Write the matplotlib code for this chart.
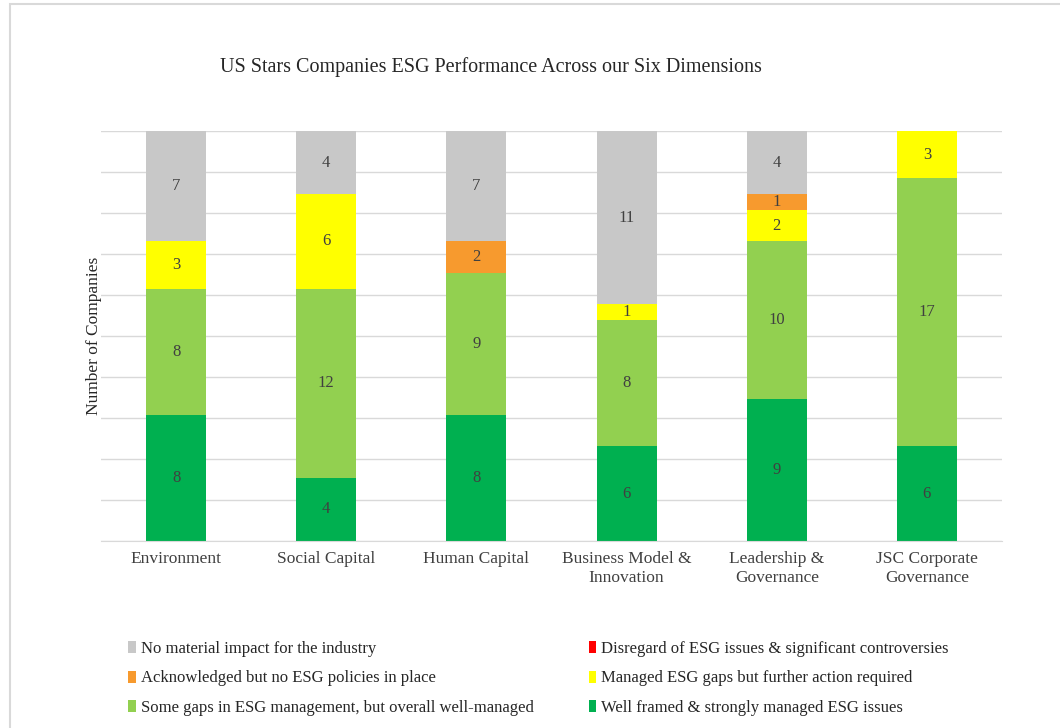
import numpy as np
import matplotlib.pyplot as plt
from matplotlib.patches import Patch, Rectangle

plt.rcParams['font.family'] = ['Liberation Serif', 'DejaVu Serif']

# ----- data -----
categories = ['Environment', 'Social Capital', 'Human Capital',
              'Business Model &\nInnovation', 'Leadership &\nGovernance',
              'JSC Corporate\nGovernance']
well_framed = [8, 4, 8, 6, 9, 6]
some_gaps = [8, 12, 9, 8, 10, 17]
managed_gaps = [3, 6, 0, 1, 2, 3]
acknowledged = [0, 0, 2, 0, 1, 0]
disregard = [0, 0, 0, 0, 0, 0]
no_impact = [7, 4, 7, 11, 4, 0]

series_names = ['Well framed & strongly managed ESG issues',
                'Some gaps in ESG management, but overall well-managed',
                'Managed ESG gaps but further action required',
                'Acknowledged but no ESG policies in place',
                'Disregard of ESG issues & significant controversies',
                'No material impact for the industry']
series_vals = [well_framed, some_gaps, managed_gaps, acknowledged, disregard, no_impact]
colors = ['#00B050', '#92D050', '#FFFF00', '#F79A2E', '#FF0000', '#C8C8C8']

# ----- plot -----
fig = plt.figure(figsize=(10.6, 7.28), dpi=100)
ax = fig.add_axes([0.0953, 0.2569, 0.85, 0.5632])

x = np.arange(len(categories))
bottom = np.zeros(len(categories))
for name, vals, col in zip(series_names, series_vals, colors):
    vals = np.array(vals, dtype=float)
    ax.bar(x, vals, 0.4, bottom=bottom, color=col, label=name, zorder=2)
    for xi, b, v in zip(x, bottom, vals):
        if v > 0:
            ax.text(xi, b + v / 2, f'{int(v)}', ha='center', va='center',
                    fontsize=12, color='#404040', zorder=3)
    bottom += vals

ax.set_xlim(-0.5, len(categories) - 0.5)
ax.set_ylim(0, 26)
ax.set_yticks(np.linspace(0, 26, 11))
ax.set_yticklabels([])
ax.tick_params(axis='y', length=0)
ax.tick_params(axis='x', length=0, pad=7)
ax.set_xticks(x)
ax.set_xticklabels(categories, fontsize=12.5, color='#404040', linespacing=1.25)
ax.grid(axis='y', color='#D9D9D9', lw=1, zorder=0)
for s in ['top', 'right', 'left']:
    ax.spines[s].set_visible(False)
ax.spines['bottom'].set_color('#D9D9D9')
ax.set_ylabel('Number of Companies', fontsize=12.5, color='#262626', labelpad=-4)

fig.text(0.463, 0.908, 'US Stars Companies ESG Performance Across our Six Dimensions',
         ha='center', va='center', fontsize=14.5, color='#262626')

# legend: column-major order so rows read across
order = [5, 3, 1, 4, 2, 0]
handles = [Patch(facecolor=colors[i], edgecolor='none') for i in order]
labels = [series_names[i] for i in order]
fig.legend(handles, labels, ncol=2, loc='center left',
           bbox_to_anchor=(0.107, 0.068), frameon=False, fontsize=12,
           handlelength=0.45, handleheight=0.75, handletextpad=0.3,
           labelspacing=0.82, columnspacing=3.3, labelcolor='#262626')

# outer frame
fig.patches.append(Rectangle((10 / 1060, -0.01), 1.1, 1 - 4 / 728 + 0.01,
                             transform=fig.transFigure, fill=False,
                             edgecolor='#D9D9D9', lw=1.5))

plt.savefig('out.png', dpi=100)
